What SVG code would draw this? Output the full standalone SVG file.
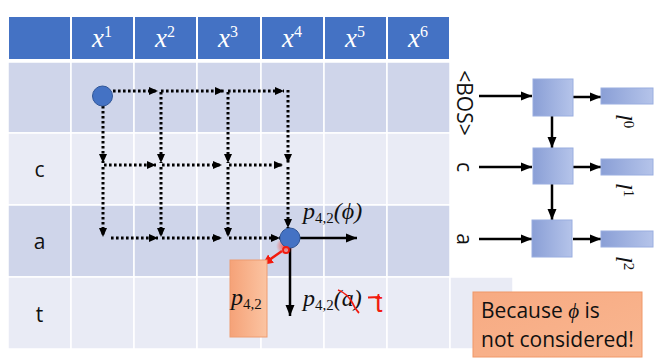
<svg xmlns="http://www.w3.org/2000/svg" width="663" height="363" viewBox="0 0 663 363">
<defs>
<style>
.hd{fill:#4472C4;stroke:#fff;stroke-width:2}
.r1{fill:#CFD5EA;stroke:#fff;stroke-width:1.5}
.r2{fill:#E9EBF5;stroke:#fff;stroke-width:1.5}
.ht{font-family:"Liberation Serif","DejaVu Serif",serif;font-style:italic;font-size:27px;fill:#fff}
.sup{font-style:normal;font-size:16px}
.lab{font-family:"Open Sans","Liberation Sans",sans-serif;font-size:21px;fill:#111}
.mth{font-family:"Liberation Serif","DejaVu Serif",serif;font-style:italic;font-size:24px;fill:#111}
.sub{font-style:normal;font-size:15px}
.dot{fill:none;stroke:#000;stroke-width:3;stroke-dasharray:2.6 2.4;marker-end:url(#ah)}
.sol{fill:none;stroke:#000;stroke-width:2.5;marker-end:url(#ah2)}
.bx{fill:url(#bg);stroke:#9AAEE0;stroke-width:1}
</style>
<marker id="ah" markerUnits="userSpaceOnUse" markerWidth="10" markerHeight="10" refX="9" refY="5" orient="auto"><path d="M0,1 L9,5 L0,9 Z" fill="#000"/></marker>
<marker id="ah2" markerUnits="userSpaceOnUse" markerWidth="12" markerHeight="12" refX="11" refY="6" orient="auto"><path d="M0,1.5 L11,6 L0,10.5 Z" fill="#000"/></marker>
<marker id="ahr" markerUnits="userSpaceOnUse" markerWidth="12" markerHeight="12" refX="11" refY="6" orient="auto"><path d="M0,1 L11,6 L0,11 Z" fill="#F21B0F"/></marker>
<linearGradient id="bg" x1="0" y1="0" x2="1" y2="0"><stop offset="0" stop-color="#8A9FD6"/><stop offset="1" stop-color="#B5C4EA"/></linearGradient>
<linearGradient id="og" x1="0" y1="0" x2="1" y2="0"><stop offset="0" stop-color="#F5A278"/><stop offset="1" stop-color="#FBC4A2"/></linearGradient>
<linearGradient id="og2" x1="0" y1="0" x2="1" y2="1"><stop offset="0" stop-color="#F7AA82"/><stop offset="1" stop-color="#F9B690"/></linearGradient>
<radialGradient id="glow"><stop offset="0" stop-color="#FF3020" stop-opacity="0.8"/><stop offset="1" stop-color="#FF3020" stop-opacity="0"/></radialGradient>
</defs>
<rect width="663" height="363" fill="#fff"/>

<g id="table">
<rect class="hd" x="8" y="16" width="63" height="44"/>
<rect class="hd" x="71" y="16" width="63" height="44"/>
<rect class="hd" x="134" y="16" width="63" height="44"/>
<rect class="hd" x="197" y="16" width="64" height="44"/>
<rect class="hd" x="261" y="16" width="63" height="44"/>
<rect class="hd" x="324" y="16" width="63" height="44"/>
<rect class="hd" x="387" y="16" width="63" height="44"/>
<g>
<rect class="r1" x="8" y="62" width="63" height="71"/><rect class="r1" x="71" y="62" width="63" height="71"/><rect class="r1" x="134" y="62" width="63" height="71"/><rect class="r1" x="197" y="62" width="64" height="71"/><rect class="r1" x="261" y="62" width="63" height="71"/><rect class="r1" x="324" y="62" width="63" height="71"/><rect class="r1" x="387" y="62" width="63" height="71"/>
<rect class="r2" x="8" y="133" width="63" height="72"/><rect class="r2" x="71" y="133" width="63" height="72"/><rect class="r2" x="134" y="133" width="63" height="72"/><rect class="r2" x="197" y="133" width="64" height="72"/><rect class="r2" x="261" y="133" width="63" height="72"/><rect class="r2" x="324" y="133" width="63" height="72"/><rect class="r2" x="387" y="133" width="63" height="72"/>
<rect class="r1" x="8" y="205" width="63" height="72"/><rect class="r1" x="71" y="205" width="63" height="72"/><rect class="r1" x="134" y="205" width="63" height="72"/><rect class="r1" x="197" y="205" width="64" height="72"/><rect class="r1" x="261" y="205" width="63" height="72"/><rect class="r1" x="324" y="205" width="63" height="72"/><rect class="r1" x="387" y="205" width="63" height="72"/>
<rect class="r2" x="8" y="277" width="63" height="72"/><rect class="r2" x="71" y="277" width="63" height="72"/><rect class="r2" x="134" y="277" width="63" height="72"/><rect class="r2" x="197" y="277" width="64" height="72"/><rect class="r2" x="261" y="277" width="63" height="72"/><rect class="r2" x="324" y="277" width="63" height="72"/><rect class="r2" x="387" y="277" width="63" height="72"/><rect class="r2" x="450" y="277" width="63" height="72"/>
</g>
<text class="ht" x="102" y="47" text-anchor="middle">x<tspan class="sup" dy="-10">1</tspan></text>
<text class="ht" x="165" y="47" text-anchor="middle">x<tspan class="sup" dy="-10">2</tspan></text>
<text class="ht" x="228" y="47" text-anchor="middle">x<tspan class="sup" dy="-10">3</tspan></text>
<text class="ht" x="292" y="47" text-anchor="middle">x<tspan class="sup" dy="-10">4</tspan></text>
<text class="ht" x="355" y="47" text-anchor="middle">x<tspan class="sup" dy="-10">5</tspan></text>
<text class="ht" x="418" y="47" text-anchor="middle">x<tspan class="sup" dy="-10">6</tspan></text>
<text class="lab" x="39.5" y="177" text-anchor="middle">c</text>
<text class="lab" x="39.5" y="249" text-anchor="middle">a</text>
<text class="lab" x="39.5" y="322" text-anchor="middle">t</text>
</g>

<g id="connectors">
<path class="dot" d="M113,91 H158"/>
<path class="dot" d="M161,91 H224"/>
<path class="dot" d="M228,91 H284"/>
<path class="dot" d="M103,106 V163"/>
<path class="dot" d="M103,167 V237"/>
<path class="dot" d="M161,92 V163"/>
<path class="dot" d="M161,167 V237"/>
<path class="dot" d="M228,92 V163"/>
<path class="dot" d="M228,167 V237"/>
<path class="dot" d="M288,90 V163"/>
<path class="dot" d="M288,167 V228"/>
<path class="dot" d="M104,165 H156"/>
<path class="dot" d="M162,165 H222"/>
<path class="dot" d="M229,165 H283"/>
<path class="dot" d="M111,238 H158"/>
<path class="dot" d="M162,238 H222"/>
<path class="dot" d="M229,238 H280"/>
<path class="sol" d="M300,238 H357"/>
<path class="sol" d="M290,248 V316"/>
<path fill="none" stroke="#F21B0F" stroke-width="2.5" marker-end="url(#ahr)" d="M282,251 L262,265"/>
<path class="sol" d="M479,96 H532"/>
<path class="sol" d="M479,167 H532"/>
<path class="sol" d="M479,239 H532"/>
<path class="sol" d="M552,116 V148"/>
<path class="sol" d="M552,184 V220"/>
<path class="sol" d="M573,97 H601"/>
<path class="sol" d="M573,167 H601"/>
<path class="sol" d="M573,239 H601"/>
</g>

<g id="start">
<circle cx="102.5" cy="96" r="10" fill="#4472C4" stroke="#2F5597" stroke-width="1"/>
</g>
<g id="node42">
<circle cx="285" cy="246" r="9" fill="url(#glow)"/>
<circle cx="290" cy="238" r="10" fill="#4472C4" stroke="#2F5597" stroke-width="1"/>
<circle cx="286" cy="250" r="3" fill="none" stroke="#F21B0F" stroke-width="1.8"/>
</g>
<g id="label-phi">
<text class="mth" x="303" y="219">p<tspan class="sub" dy="4">4,2</tspan><tspan dy="-4">(ϕ)</tspan></text>
</g>
<g id="label-a">
<text class="mth" x="303" y="306">p<tspan class="sub" dy="4">4,2</tspan><tspan dy="-4">(a)</tspan></text>
<path d="M338,290 C344,292 350,298 353,304 C355,309 357,311 359,313" fill="none" stroke="#F21B0F" stroke-width="1.8"/>
<path d="M368,297.5 L380,297" fill="none" stroke="#F21B0F" stroke-width="2"/>
<text x="375" y="312" font-family="'Liberation Sans',sans-serif" font-size="27" fill="#F21B0F">t</text>
</g>
<g id="p42box">
<rect x="230" y="260" width="37" height="77" fill="url(#og)" stroke="#EE9C70" stroke-width="1"/>
<text class="mth" x="231" y="305" font-size="28">p<tspan class="sub" dy="4" font-size="18">4,2</tspan></text>
</g>

<g id="rnn">
<text class="lab" transform="translate(457,103) rotate(90)" text-anchor="middle">&lt;BOS&gt;</text>
<text class="lab" transform="translate(457,167) rotate(90)" text-anchor="middle">c</text>
<text class="lab" transform="translate(457,239) rotate(90)" text-anchor="middle">a</text>
<g id="cell0"><rect class="bx" x="533" y="79" width="40" height="37"/></g>
<g id="cell1"><rect class="bx" x="533" y="148" width="40" height="36"/></g>
<g id="cell2"><rect class="bx" x="532" y="220" width="40" height="37"/></g>
<g id="out0"><rect class="bx" x="601" y="88" width="52" height="16"/><text class="mth" transform="translate(616,114) rotate(90)">l<tspan class="sub" dy="-8">0</tspan></text></g>
<g id="out1"><rect class="bx" x="601" y="159" width="52" height="16"/><text class="mth" transform="translate(616,183) rotate(90)">l<tspan class="sub" dy="-8">1</tspan></text></g>
<g id="out2"><rect class="bx" x="601" y="231" width="52" height="16"/><text class="mth" transform="translate(616,256) rotate(90)">l<tspan class="sub" dy="-8">2</tspan></text></g>
</g>

<g id="note">
<rect x="473" y="292" width="169" height="65" fill="url(#og2)" stroke="#F09868" stroke-width="1"/>
<text class="lab" x="481" y="318">Because <tspan font-family="'Liberation Serif',serif" font-style="italic">ϕ</tspan> is</text>
<text class="lab" x="481" y="347">not considered!</text>
</g>
</svg>
